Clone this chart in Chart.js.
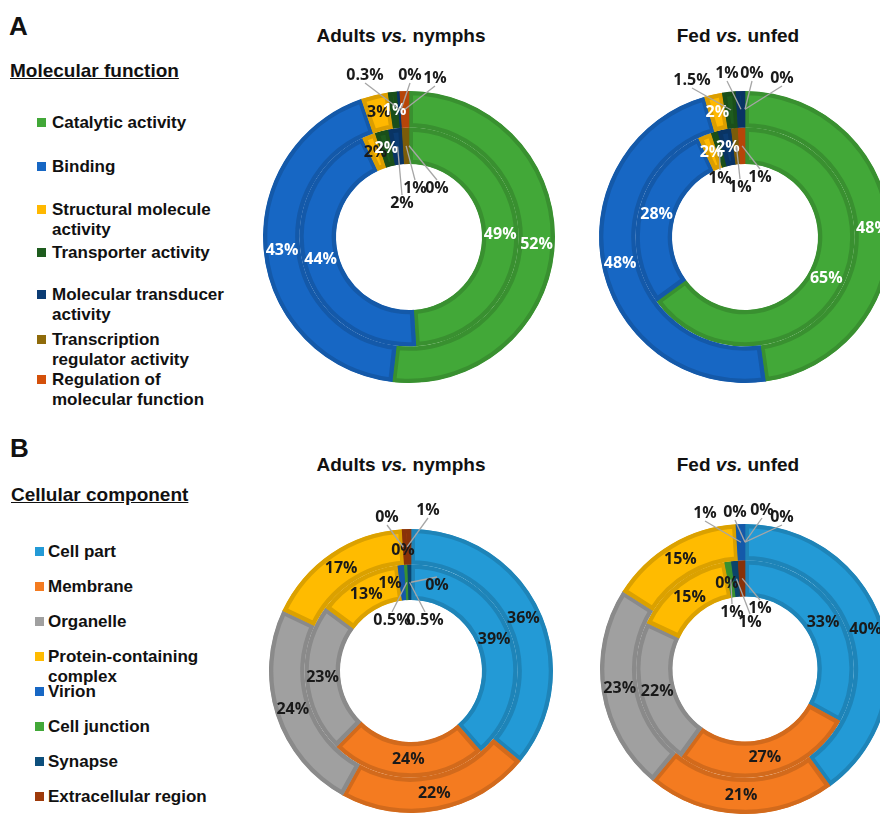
<!DOCTYPE html>
<html>
<head>
<meta charset="utf-8">
<script src="https://cdn.jsdelivr.net/npm/chart.js@4.4.1/dist/chart.umd.min.js"></script>
<style>
  body { margin: 0; width: 880px; height: 814px; overflow: hidden; position: relative; background: #fff;
         font-family: "Liberation Sans", Arial, sans-serif; font-weight: bold; color: #111; }
  .abs { position: absolute; white-space: nowrap; }
  .letter { font-size: 26px; line-height: 30px; }
  .head { font-size: 19px; line-height: 22px; text-decoration: underline; }
  .title { font-size: 19px; line-height: 22px; width: 300px; text-align: center; }
  .item { position: absolute; font-size: 17px; line-height: 20px; width: 185px; white-space: normal; }
  .sw { position: absolute; width: 9px; height: 9px; }
  canvas { position: absolute; }
</style>
</head>
<body>
<script>
// Molecular function
const mfCategories = ["Catalytic activity", "Binding", "Structural molecule activity", "Transporter activity",
  "Molecular transducer activity", "Transcription regulator activity", "Regulation of molecular function"];
const mfColors = ["#42a838", "#1767c4", "#ffb800", "#1e5c1e", "#0b3c74", "#8f6b0a", "#d4500a"];
const mfAdultsOuter = [52, 43, 3, 1, 0.3, 0, 1];
const mfAdultsInner = [49, 44, 2, 2, 2, 1, 0];
const mfFedOuter = [48, 48, 2, 1.5, 1, 0, 0];
const mfFedInner = [65, 28, 2, 1, 2, 1, 1];

// Cellular component
const ccCategories = ["Cell part", "Membrane", "Organelle", "Protein-containing complex", "Virion",
  "Cell junction", "Synapse", "Extracellular region"];
const ccColors = ["#239ad6", "#f47b20", "#a0a0a0", "#ffbb00", "#1767c4", "#42a838", "#0d4f7c", "#9e3a0a"];
const ccAdultsOuter = [36, 22, 24, 17, 0, 0, 0, 1];
const ccAdultsInner = [39, 24, 23, 13, 1, 0.5, 0.5, 0];
const ccFedOuter = [40, 21, 23, 15, 1, 0, 0, 0];
const ccFedInner = [33, 27, 22, 15, 0, 1, 1, 1];

const comparisonTitles = ["Adults <i>vs.</i> nymphs", "Fed <i>vs.</i> unfed"];

function shade(hex, f) {
  const n = parseInt(hex.slice(1), 16);
  const r = Math.round(((n >> 16) & 255) * f);
  const g = Math.round(((n >> 8) & 255) * f);
  const b = Math.round((n & 255) * f);
  return "rgb(" + r + "," + g + "," + b + ")";
}

function addDiv(cls, html, left, top) {
  const d = document.createElement("div");
  d.className = cls;
  d.innerHTML = html;
  d.style.left = left + "px";
  d.style.top = top + "px";
  document.body.appendChild(d);
  return d;
}

// panel letters, headings, titles
addDiv("abs letter", "A", 9, 11);
addDiv("abs letter", "B", 10, 433);
addDiv("abs head", "Molecular function", 10, 60);
addDiv("abs head", "Cellular component", 11, 484);
addDiv("abs title", comparisonTitles[0], 401 - 150, 25);
addDiv("abs title", comparisonTitles[1], 738 - 150, 25);
addDiv("abs title", comparisonTitles[0], 401 - 150, 454);
addDiv("abs title", comparisonTitles[1], 738 - 150, 454);

// legends (first line centres)
const mfLegendY = [123, 167, 210, 253, 295, 340, 380];
const ccLegendY = [552, 587, 622, 657, 692, 727, 762, 797];

function legend(cats, colors, ys, swX, textX) {
  cats.forEach(function (c, i) {
    const sw = addDiv("sw", "", swX, ys[i] - 5);
    sw.style.background = colors[i];
    addDiv("item", c, textX, ys[i] - 10);
  });
}
legend(mfCategories, mfColors, mfLegendY, 37, 52);
legend(ccCategories, ccColors, ccLegendY, 35, 48);

// labels: inside the slices, or moved out with a leader line
function ringLabels(cfg) {
  return {
    id: "ringLabels",
    afterDatasetsDraw(chart) {
      const ctx = chart.ctx;
      ctx.save();
      ctx.font = "bold 16px 'Open Sans'";
      ctx.textAlign = "center";
      ctx.textBaseline = "middle";
      chart.data.datasets.forEach(function (ds, di) {
        const callouts = cfg.callouts[di] || {};
        chart.getDatasetMeta(di).data.forEach(function (arc, i) {
          const c = callouts[i];
          if (c === null) return;
          const text = ds.data[i] + "%";
          const p = arc.getCenterPoint();
          if (c) {
            const lx = arc.x + c[0], ly = arc.y + c[1];
            if (c[2] !== false) {
              ctx.strokeStyle = "#a6a6a6";
              ctx.lineWidth = 1.3;
              ctx.beginPath();
              ctx.moveTo(p.x, p.y);
              ctx.lineTo(lx, ly + (ly < p.y ? 8 : -8));
              ctx.stroke();
            }
            ctx.fillStyle = "#1a1a1a";
            ctx.fillText(text, lx, ly);
          } else {
            ctx.fillStyle = cfg.darkIndex.indexOf(i) >= 0 ? "#1a1a1a" : cfg.color;
            ctx.fillText(text, p.x, p.y);
          }
        });
      });
      ctx.restore();
    }
  };
}

function ring(label, data, colors) {
  return {
    label: label,
    data: data,
    backgroundColor: colors,
    borderColor: colors.map(function (c) { return shade(c, 0.86); }),
    borderWidth: 4,
    borderAlign: "inner"
  };
}

const charts = [
  { cx: 409, cy: 237, r: 146, outer: mfAdultsOuter, inner: mfAdultsInner, colors: mfColors,
    color: "#fff", darkIndex: [2],
    callouts: [{ 4: [-44, -162], 5: [1, -162], 6: [26, -159] },
               { 4: [-7, -34], 5: [6, -49], 6: [28, -49] }] },
  { cx: 745, cy: 237, r: 146, outer: mfFedOuter, inner: mfFedInner, colors: mfColors,
    color: "#fff", darkIndex: [],
    callouts: [{ 3: [-53, -157], 4: [-18, -164], 5: [7, -164], 6: [37, -159] },
               { 3: [-25, -59], 5: [-5, -50], 6: [15, -60] }] },
  { cx: 411, cy: 671, r: 142, outer: ccAdultsOuter, inner: ccAdultsInner, colors: ccColors,
    color: "#1a1a1a", darkIndex: [],
    callouts: [{ 4: [-8, -121, false], 5: [-24, -154], 6: null, 7: [17, -161] },
               { 4: [-21, -88, false], 5: [-19, -51], 6: [14, -51], 7: [26, -86] }] },
  { cx: 745, cy: 669, r: 145, outer: ccFedOuter, inner: ccFedInner, colors: ccColors,
    color: "#1a1a1a", darkIndex: [],
    callouts: [{ 4: [-40, -156], 5: [-10, -157], 6: [17, -159], 7: [37, -152] },
               { 4: [-18, -86, false], 5: [-13, -57], 6: [5, -47], 7: [15, -61] }] }
];

const SIZE = 360;
charts.forEach(function (c) {
  const canvas = document.createElement("canvas");
  canvas.width = SIZE;
  canvas.height = SIZE;
  canvas.style.left = (c.cx - SIZE / 2) + "px";
  canvas.style.top = (c.cy - SIZE / 2) + "px";
  document.body.appendChild(canvas);
  const labels = c.colors === mfColors ? mfCategories : ccCategories;
  new Chart(canvas, {
    type: "doughnut",
    data: {
      labels: labels,
      datasets: [ring("outer", c.outer, c.colors), ring("inner", c.inner, c.colors)]
    },
    options: {
      responsive: false,
      animation: false,
      cutout: "50%",
      layout: { padding: SIZE / 2 - c.r },
      plugins: {
        legend: { display: false },
        tooltip: { enabled: false }
      }
    },
    plugins: [ringLabels(c)]
  });
});
</script>
</body>
</html>
